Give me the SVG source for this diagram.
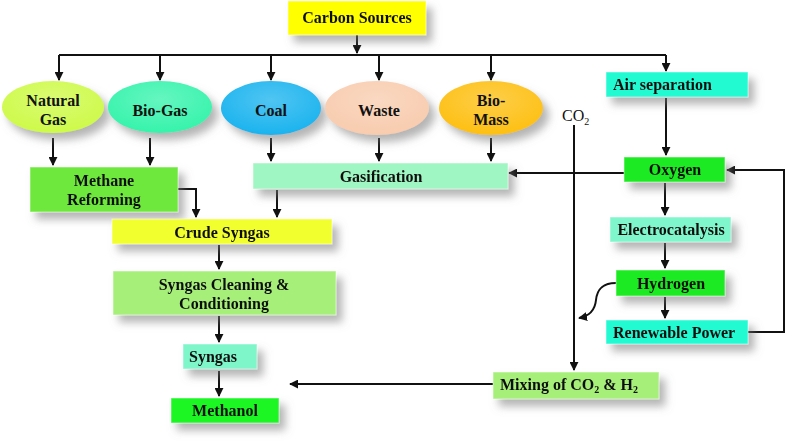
<svg xmlns="http://www.w3.org/2000/svg" width="786" height="443" viewBox="0 0 786 443">
<style>
.t{font-family:"Liberation Serif","Times New Roman",serif;font-weight:bold;font-size:16px;fill:#111;text-anchor:middle}
.tl{text-anchor:start}
.e{font-size:16px}
.c{fill:none;stroke:#111;stroke-width:2}
.b{filter:url(#sh)}
.bx{stroke:#ffffff;stroke-opacity:0.5;stroke-width:1}
</style>
<defs>
<filter id="sh" x="-20%" y="-30%" width="150%" height="200%">
<feDropShadow dx="6" dy="7" stdDeviation="4" flood-color="#777" flood-opacity="0.55"/>
</filter>
<marker id="ah" viewBox="0 0 10 10" refX="9" refY="5" markerWidth="4.5" markerHeight="4.5" orient="auto" markerUnits="strokeWidth">
<path d="M0,0 L10,5 L0,10 Z" fill="#111"/>
</marker>
<radialGradient id="gl" cx="0.5" cy="0.35" r="0.7">
<stop offset="0" stop-color="#fff" stop-opacity="0.25"/>
<stop offset="1" stop-color="#fff" stop-opacity="0"/>
</radialGradient>
</defs>

<g id="connectors">
<path class="c" d="M357,35 V53" marker-end="url(#ah)"/>
<path class="c" d="M59,55 H666"/>
<path class="c" d="M59,55 V80" marker-end="url(#ah)"/>
<path class="c" d="M160,55 V80" marker-end="url(#ah)"/>
<path class="c" d="M271,55 V80" marker-end="url(#ah)"/>
<path class="c" d="M379,55 V80" marker-end="url(#ah)"/>
<path class="c" d="M491,55 V80" marker-end="url(#ah)"/>
<path class="c" d="M666,55 V71" marker-end="url(#ah)"/>
<path class="c" d="M53,138 V165" marker-end="url(#ah)"/>
<path class="c" d="M150,138 V165" marker-end="url(#ah)"/>
<path class="c" d="M271,138 V161" marker-end="url(#ah)"/>
<path class="c" d="M379,138 V161" marker-end="url(#ah)"/>
<path class="c" d="M491,138 V161" marker-end="url(#ah)"/>
<path class="c" d="M666,98 V155" marker-end="url(#ah)"/>
<path class="c" d="M624,173 H509" marker-end="url(#ah)"/>
<path class="c" d="M277,190 V217" marker-end="url(#ah)"/>
<path class="c" d="M178,189 H196 V217" marker-end="url(#ah)"/>
<path class="c" d="M219,245 V269" marker-end="url(#ah)"/>
<path class="c" d="M219,316 V342" marker-end="url(#ah)"/>
<path class="c" d="M219,371 V396" marker-end="url(#ah)"/>
<path class="c" d="M574,125 V370" marker-end="url(#ah)"/>
<path class="c" d="M493,384 H290" marker-end="url(#ah)"/>
<path class="c" d="M665,183 V215" marker-end="url(#ah)"/>
<path class="c" d="M665,243 V268" marker-end="url(#ah)"/>
<path class="c" d="M665,297 V318" marker-end="url(#ah)"/>
<path class="c" d="M748,332 H784 V170 H727" marker-end="url(#ah)"/>
<path class="c" d="M616,283 C601,283 597,291 596,300 C595,310 590,316 579,318" marker-end="url(#ah)"/>
</g>

<g id="carbon-sources" class="b"><rect class="bx" x="288" y="1" width="138" height="34" fill="#FFFF00"/><text class="t" x="357" y="23">Carbon Sources</text></g>

<g id="natural-gas"><ellipse class="b" cx="53" cy="107" rx="51" ry="26" fill="#CDFA45"/><ellipse cx="53" cy="107" rx="51" ry="26" fill="url(#gl)"/><text class="t e" x="53" y="106">Natural</text><text class="t e" x="53" y="125">Gas</text></g>
<g id="bio-gas"><ellipse class="b" cx="160" cy="107" rx="52" ry="26" fill="#30F3AA"/><ellipse cx="160" cy="107" rx="52" ry="26" fill="url(#gl)"/><text class="t e" x="160" y="116">Bio-Gas</text></g>
<g id="coal"><ellipse class="b" cx="271" cy="108" rx="50" ry="27" fill="#12B2EE"/><ellipse cx="271" cy="108" rx="50" ry="27" fill="url(#gl)"/><text class="t e" x="271" y="116">Coal</text></g>
<g id="waste"><ellipse class="b" cx="377" cy="108" rx="52" ry="27" fill="#F8CBAD"/><ellipse cx="377" cy="108" rx="52" ry="27" fill="url(#gl)"/><text class="t e" x="379" y="116">Waste</text></g>
<g id="bio-mass"><ellipse class="b" cx="491" cy="108" rx="52" ry="27" fill="#FDBE0A"/><ellipse cx="491" cy="108" rx="52" ry="27" fill="url(#gl)"/><text class="t e" x="491" y="106">Bio-</text><text class="t e" x="491" y="125">Mass</text></g>

<g id="co2-label"><text class="t tl" style="font-weight:normal" x="562" y="121">CO<tspan font-size="10" dy="4">2</tspan></text></g>

<g id="air-separation" class="b"><rect class="bx" x="606" y="72" width="142" height="25" fill="#20FAD2"/><text class="t tl" x="613" y="90">Air separation</text></g>
<g id="oxygen" class="b"><rect class="bx" x="624" y="157" width="101" height="25" fill="#1EEA22"/><text class="t" x="675" y="175">Oxygen</text></g>
<g id="electrocatalysis" class="b"><rect class="bx" x="610" y="217" width="121" height="25" fill="#80F6CC"/><text class="t" x="671" y="235">Electrocatalysis</text></g>
<g id="hydrogen" class="b"><rect class="bx" x="616" y="270" width="109" height="26" fill="#1EEA22"/><text class="t" x="671" y="289">Hydrogen</text></g>
<g id="renewable-power" class="b"><rect class="bx" x="606" y="320" width="142" height="24" fill="#20FAD2"/><text class="t tl" x="613" y="338">Renewable Power</text></g>

<g id="gasification" class="b"><rect class="bx" x="253" y="163" width="255" height="26" fill="#A0F6C2"/><text class="t" x="381" y="182">Gasification</text></g>
<g id="methane-reforming" class="b"><rect class="bx" x="30" y="167" width="148" height="45" fill="#6EE83C"/><text class="t" x="104" y="186">Methane</text><text class="t" x="104" y="205">Reforming</text></g>
<g id="crude-syngas" class="b"><rect class="bx" x="112" y="219" width="220" height="25" fill="#F2FF2E"/><text class="t" x="222" y="238">Crude Syngas</text></g>
<g id="syngas-cleaning" class="b"><rect class="bx" x="113" y="271" width="223" height="44" fill="#A6F07A"/><text class="t" x="224" y="290">Syngas Cleaning &amp;</text><text class="t" x="224" y="309">Conditioning</text></g>
<g id="syngas" class="b"><rect class="bx" x="183" y="344" width="74" height="25" fill="#7EF6CA"/><text class="t tl" x="189" y="362">Syngas</text></g>
<g id="methanol" class="b"><rect class="bx" x="171" y="398" width="108" height="25" fill="#1AF624"/><text class="t" x="225" y="416">Methanol</text></g>
<g id="mixing" class="b"><rect class="bx" x="493" y="372" width="166" height="27" fill="#A6F07A"/><text class="t tl" x="500" y="390">Mixing of CO<tspan font-size="10" dy="3">2</tspan><tspan dy="-3"> &amp; H</tspan><tspan font-size="10" dy="3">2</tspan></text></g>
</svg>
